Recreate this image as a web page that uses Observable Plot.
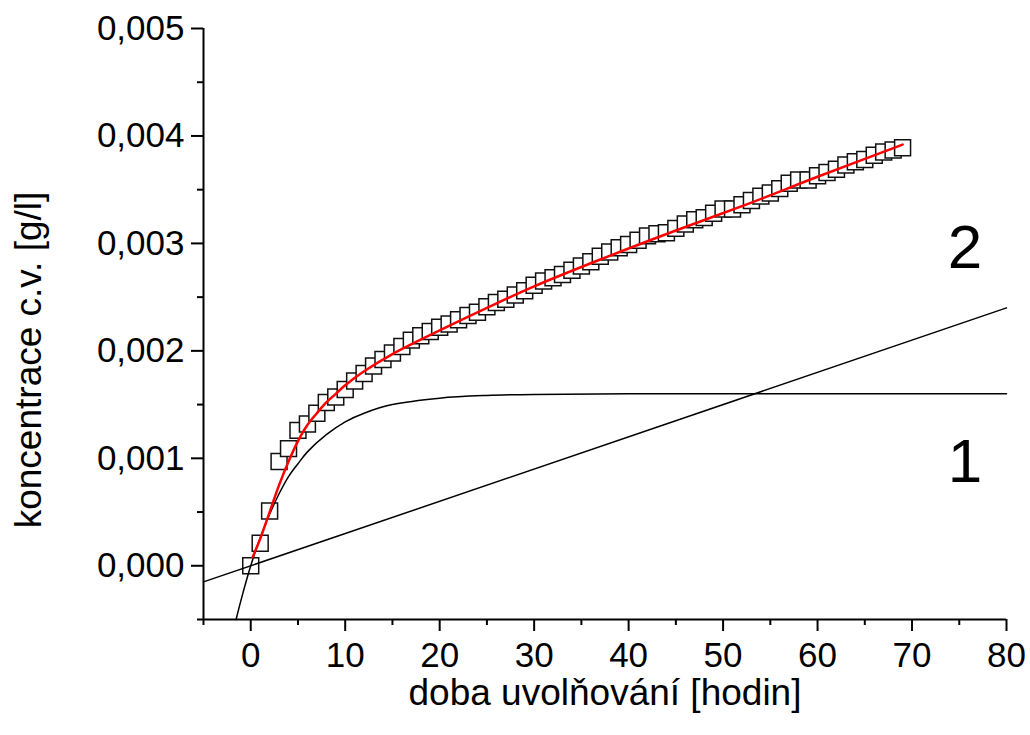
<!DOCTYPE html>
<html><head><meta charset="utf-8">
<script src="https://cdn.jsdelivr.net/npm/d3@7"></script>
<script src="https://cdn.jsdelivr.net/npm/@observablehq/plot@0.6"></script>
<style>body{margin:0;background:#fff}</style>
</head><body><div id="chart"></div>
<script>
// measured data: release time [h] and concentration [g/l]
const hours = [0,1,2,3,4,5,6,7,8,9,10,11,12,13,14,15,16,17,18,19,20,21,22,23,24,25,26,27,28,29,30,31,32,33,34,35,36,37,38,39,40,41,42,43,44,45,46,47,48,49,50,51,52,53,54,55,56,57,58,59,60,61,62,63,64,65,66,67,68,69];
const conc = [0.00000,0.00021,0.00051,0.00097,0.00109,0.00126,0.00132,0.00142,0.00152,0.00157,
  0.00164,0.00172,0.00179,0.00186,0.00192,0.00198,0.00204,0.00210,0.00214,0.00218,
  0.00222,0.00225,0.00229,0.00233,0.00236,0.00241,0.00245,0.00248,0.00252,0.00256,
  0.00261,0.00265,0.00268,0.00271,0.00275,0.00279,0.00283,0.00288,0.00292,0.00296,
  0.00299,0.00303,0.00307,0.00309,0.00310,0.00314,0.00318,0.00322,0.00324,0.00328,
  0.00332,0.00332,0.00336,0.00340,0.00344,0.00347,0.00351,0.00356,0.00359,0.00359,
  0.00363,0.00366,0.00369,0.00373,0.00376,0.00378,0.00382,0.00385,0.00387,0.00389];
// fitted curve (red)
const fitX = [0.2,1,2,3,4,5,6,7,8,9,10,12,15,20,25,30,37,45,53,60,69];
const fitY = [0.00008,0.00025,0.00050,0.00075,0.00097,0.00116,0.00131,0.00142,0.00152,0.00160,0.00168,0.00181,0.00197,0.00219,0.00240,0.00260,0.00285,0.00312,0.00338,0.00362,0.00392];
// component 1 (saturating curve)
const expX = [-1.55,-1,0,1,2,3,4,5,6,8,10,12,15,20,25,30,40,80];
const expY = [-0.0005,-0.00031,0,0.00026,0.00048,0.00067,0.00083,0.00095,0.00106,0.00122,0.00134,0.00142,0.0015,0.00156,0.001585,0.001595,0.0016,0.0016];
// component 2 (linear)
const linX = [-5,80];
const linY = [-0.00015,0.0024];
// curve labels
const curveLabels = ["2","1"];
const curveLabelX = [75.6,75.6];
const curveLabelY = [0.00296,0.00096];
// ticks
const yTicks = [0,0.001,0.002,0.003,0.004,0.005];
const yMinor = [-0.0005,0.0005,0.0015,0.0025,0.0035,0.0045];
const xTicks = [0,10,20,30,40,50,60,70,80];
const xMinor = [-5,5,15,25,35,45,55,65,75];
const xTitle = "doba uvolňování [hodin]";
const yTitle = "koncentrace c.v. [g/l]";

const fmt = d => d3.format(".3f")(d).replace(".", ",");
const chart = Plot.plot({
  width: 1030, height: 735,
  marginLeft: 203, marginRight: 24, marginTop: 28, marginBottom: 116,
  x: {domain: [-5, 80]},
  y: {domain: [-0.0005, 0.005]},
  style: {fontFamily: "'Liberation Sans', Arial, sans-serif", fontSize: "34px", color: "#000", background: "#fff"},
  marks: [
    Plot.axisY(yTicks, {tickSize: 12, tickPadding: 7, tickFormat: fmt, strokeWidth: 2, label: null, fontSize: 35}),
    Plot.axisY(yMinor, {tickSize: 6, tickFormat: () => "", strokeWidth: 2, label: null}),
    Plot.axisX(xTicks, {tickSize: 12, tickPadding: 11, tickFormat: d => String(d), strokeWidth: 2, label: null, fontSize: 35}),
    Plot.axisX(xMinor, {tickSize: 6, tickFormat: () => "", strokeWidth: 2, label: null}),
    Plot.ruleX([-5], {strokeWidth: 2}),
    Plot.ruleY([-0.0005], {strokeWidth: 2}),
    Plot.dot(hours, {x: d => d, y: (d, i) => conc[i], symbol: "square", r: 9, fill: "white", stroke: "#111", strokeWidth: 1.5}),
    Plot.line(linX, {x: d => d, y: (d, i) => linY[i], stroke: "black", strokeWidth: 1.5}),
    Plot.line(expX, {x: d => d, y: (d, i) => expY[i], stroke: "black", strokeWidth: 1.5, curve: "catmull-rom"}),
    Plot.line(fitX, {x: d => d, y: (d, i) => fitY[i], stroke: "red", strokeWidth: 2.5, curve: "catmull-rom"}),
    Plot.text(curveLabels, {x: (d, i) => curveLabelX[i], y: (d, i) => curveLabelY[i], text: d => d, fontSize: 62}),
    Plot.text([yTitle], {frameAnchor: "left", textAnchor: "middle", rotate: -90, dx: -174, dy: 36, fontSize: 37, text: d => d}),
    Plot.text([xTitle], {frameAnchor: "bottom", textAnchor: "middle", dy: 74, fontSize: 37, lineAnchor: "middle", text: d => d})
  ]
});
document.getElementById("chart").appendChild(chart);
</script>
</body></html>
